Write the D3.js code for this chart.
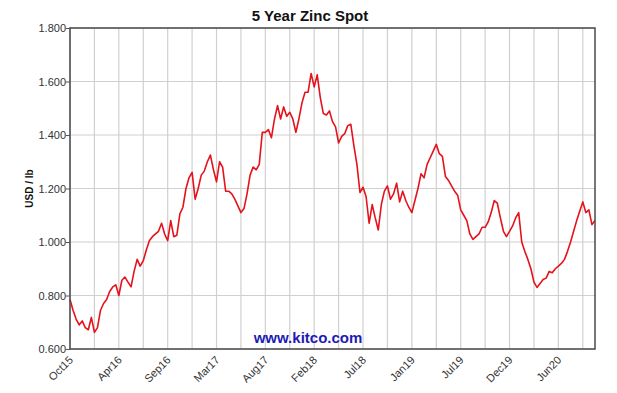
<!DOCTYPE html>
<html>
<head>
<meta charset="utf-8">
<script src="https://cdn.jsdelivr.net/npm/d3@7"></script>
<style>
    body { margin: 0; background: #fff; }
    text { font-family: "Liberation Sans", Arial, sans-serif; }
</style>
</head>
<body>
<div id="chart"></div>
<script>
// zinc spot, USD/lb at even steps (8 steps per gridline)
const prices = [
    0.785, 0.745, 0.712, 0.690, 0.705, 0.680, 0.672, 0.718, 0.662, 0.680,
    0.745, 0.770, 0.785, 0.815, 0.832, 0.840, 0.800, 0.857, 0.869, 0.850,
    0.832, 0.890, 0.935, 0.910, 0.930, 0.970, 1.005, 1.020, 1.030, 1.040,
    1.070, 1.030, 1.005, 1.080, 1.020, 1.025, 1.105, 1.130, 1.200, 1.240,
    1.260, 1.160, 1.200, 1.250, 1.265, 1.300, 1.325, 1.270, 1.225, 1.300,
    1.280, 1.190, 1.190, 1.180, 1.160, 1.135, 1.110, 1.125, 1.180, 1.250,
    1.280, 1.270, 1.290, 1.410, 1.410, 1.420, 1.390, 1.460, 1.510, 1.460,
    1.505, 1.470, 1.485, 1.460, 1.410, 1.460, 1.520, 1.560, 1.560, 1.630,
    1.580, 1.625, 1.540, 1.480, 1.475, 1.490, 1.450, 1.430, 1.370, 1.395,
    1.405, 1.435, 1.440, 1.360, 1.290, 1.185, 1.205, 1.170, 1.070, 1.140,
    1.090, 1.045, 1.140, 1.190, 1.210, 1.160, 1.180, 1.220, 1.150, 1.190,
    1.155, 1.130, 1.110, 1.155, 1.200, 1.255, 1.240, 1.290, 1.315, 1.340,
    1.365, 1.330, 1.320, 1.245, 1.230, 1.210, 1.190, 1.175, 1.120, 1.100,
    1.080, 1.030, 1.010, 1.020, 1.030, 1.055, 1.055, 1.075, 1.110, 1.155,
    1.145, 1.090, 1.040, 1.020, 1.040, 1.060, 1.090, 1.110, 1.000, 0.965,
    0.935, 0.900, 0.850, 0.830, 0.845, 0.860, 0.865, 0.890, 0.885, 0.900,
    0.910, 0.920, 0.935, 0.965, 1.000, 1.040, 1.080, 1.115, 1.150, 1.110,
    1.120, 1.065, 1.080
];

const xLabels = ["Oct15", "Apr16", "Sep16", "Mar17", "Aug17", "Feb18",
                 "Jul18", "Jan19", "Jul19", "Dec19", "Jun20"];
const yTicks = [0.6, 0.8, 1.0, 1.2, 1.4, 1.6, 1.8];

const title = "5 Year Zinc Spot";
const yTitle = "USD / lb";
const watermark = "www.kitco.com";

const width = 617;
const height = 393;
const margin = { top: 28, right: 22, bottom: 44, left: 70 };
const stepsPerGrid = 8;

const svg = d3.select("#chart").append("svg")
    .attr("width", width)
    .attr("height", height);

const x = d3.scaleLinear()
    .domain([0, prices.length - 1])
    .range([margin.left, width - margin.right]);

const y = d3.scaleLinear()
    .domain([0.6, 1.8])
    .range([height - margin.bottom, margin.top]);

// vertical gridlines, one every 8 steps, labels on every other one
const gridIdx = d3.range(0, prices.length, stepsPerGrid);

svg.append("g")
    .selectAll("line")
    .data(gridIdx)
    .enter().append("line")
    .attr("x1", d => x(d))
    .attr("x2", d => x(d))
    .attr("y1", y(1.8))
    .attr("y2", y(0.6))
    .attr("stroke", "#d0d0d0")
    .attr("stroke-width", 1.2);

svg.append("g")
    .selectAll("line")
    .data(yTicks)
    .enter().append("line")
    .attr("x1", x(0))
    .attr("x2", x(prices.length - 1))
    .attr("y1", d => y(d))
    .attr("y2", d => y(d))
    .attr("stroke", "#d0d0d0")
    .attr("stroke-width", 1.2);

// y axis ticks and labels
const yAxis = svg.append("g")
    .attr("transform", `translate(${margin.left},0)`)
    .call(d3.axisLeft(y).tickValues(yTicks).tickFormat(d3.format(".3f")).tickSize(4));
yAxis.select(".domain").remove();
yAxis.selectAll("line").attr("stroke", "#555");
yAxis.selectAll("text")
    .attr("fill", "#333")
    .style("font-size", "11px")
    .attr("x", -4)
    .attr("dy", "0.35em");

// x labels, rotated
svg.append("g")
    .selectAll("text")
    .data(xLabels)
    .enter().append("text")
    .attr("transform", (d, i) => `translate(${x(i * stepsPerGrid * 2) + 1},${y(0.6) + 9}) rotate(-45)`)
    .attr("text-anchor", "end")
    .attr("dy", "0.35em")
    .attr("fill", "#333")
    .style("font-size", "11px")
    .text(d => d);

// the price line
const line = d3.line()
    .x((d, i) => x(i))
    .y(d => y(d));

svg.append("path")
    .datum(prices)
    .attr("fill", "none")
    .attr("stroke", "#e5121c")
    .attr("stroke-width", 1.6)
    .attr("stroke-linejoin", "round")
    .attr("d", line);

// frame
svg.append("rect")
    .attr("x", x(0))
    .attr("y", y(1.8))
    .attr("width", x(prices.length - 1) - x(0))
    .attr("height", y(0.6) - y(1.8))
    .attr("fill", "none")
    .attr("stroke", "#4a4a4a")
    .attr("stroke-width", 1.5);

svg.append("text")
    .attr("x", 310)
    .attr("y", 21)
    .attr("text-anchor", "middle")
    .style("font-size", "15px")
    .style("font-weight", "bold")
    .attr("fill", "#111")
    .text(title);

svg.append("text")
    .attr("transform", `translate(33,${(y(1.8) + y(0.6)) / 2}) rotate(-90)`)
    .attr("text-anchor", "middle")
    .style("font-size", "10px")
    .style("font-weight", "bold")
    .attr("fill", "#111")
    .text(yTitle);

svg.append("text")
    .attr("x", 308)
    .attr("y", 343)
    .attr("text-anchor", "middle")
    .style("font-size", "15px")
    .style("font-weight", "bold")
    .attr("fill", "#1c1cb4")
    .text(watermark);
</script>
</body>
</html>
